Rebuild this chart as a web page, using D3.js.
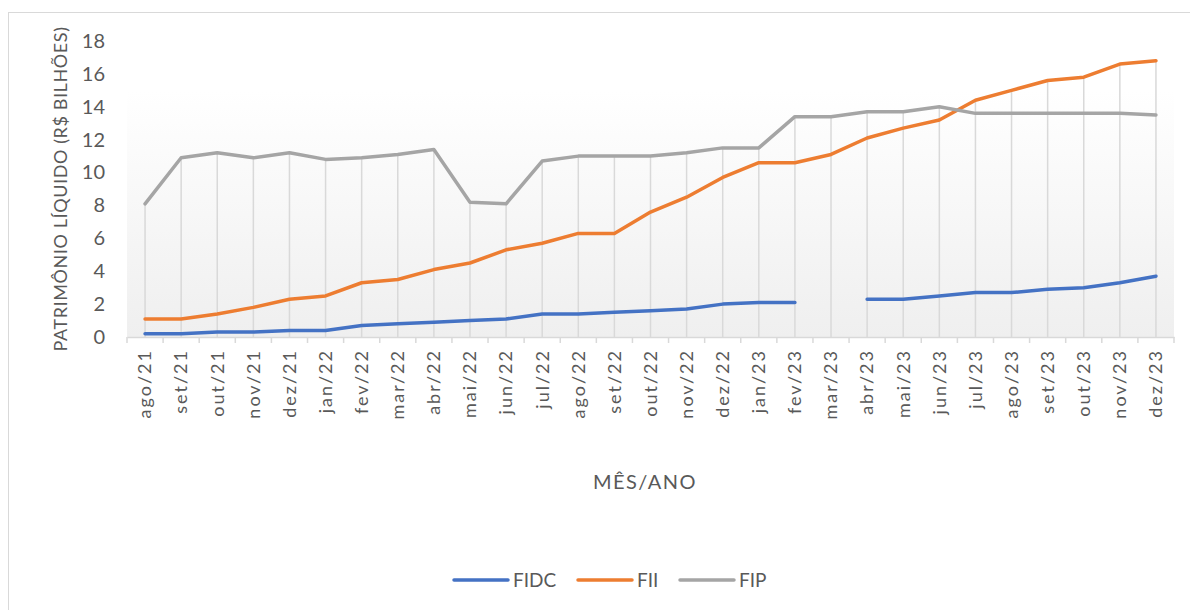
<!DOCTYPE html>
<html>
<head>
<meta charset="utf-8">
<script src="https://cdn.jsdelivr.net/npm/d3@7"></script>
<style>
  body { margin: 0; background: #fff; }
  svg text { font-family: Lato, "Open Sans", sans-serif; fill: #595959; }
</style>
</head>
<body>
<div id="chart"></div>
<script>
const months = ["ago/21","set/21","out/21","nov/21","dez/21","jan/22","fev/22","mar/22","abr/22","mai/22","jun/22","jul/22","ago/22","set/22","out/22","nov/22","dez/22","jan/23","fev/23","mar/23","abr/23","mai/23","jun/23","jul/23","ago/23","set/23","out/23","nov/23","dez/23"]

const fidc = [0.2,0.2,0.3,0.3,0.4,0.4,0.7,0.8,0.9,1.0,1.1,1.4,1.4,1.5,1.6,1.7,2.0,2.1,2.1,null,2.3,2.3,2.5,2.7,2.7,2.9,3.0,3.3,3.7]
const fii = [1.1,1.1,1.4,1.8,2.3,2.5,3.3,3.5,4.1,4.5,5.3,5.7,6.3,6.3,7.6,8.5,9.7,10.6,10.6,11.1,12.1,12.7,13.2,14.4,15.0,15.6,15.8,16.6,16.8]
const fip = [8.1,10.9,11.2,10.9,11.2,10.8,10.9,11.1,11.4,8.2,8.1,10.7,11.0,11.0,11.0,11.2,11.5,11.5,13.4,13.4,13.7,13.7,14.0,13.6,13.6,13.6,13.6,13.6,13.5]
const yTicks = [0,2,4,6,8,10,12,14,16,18]

const series = [
  { name: "FIDC", values: fidc, color: "#4472C4" },
  { name: "FII", values: fii, color: "#ED7D31" },
  { name: "FIP", values: fip, color: "#A5A5A5" },
]

const W = 1190, H = 610
const plot = { left: 127, right: 1174, top: 41, bottom: 337 }

const svg = d3.select("#chart").append("svg")
  .attr("width", W).attr("height", H)

// chart border
svg.append("rect")
  .attr("x", 8.5).attr("y", 12.5)
  .attr("width", W - 8).attr("height", H - 12)
  .attr("fill", "#fff").attr("stroke", "#d9d9d9")

const x = d3.scaleBand().domain(months).range([plot.left, plot.right])
const y = d3.scaleLinear().domain([0, 18]).range([plot.bottom, plot.top])
const cx = (m) => x(m) + x.bandwidth() / 2

// plot background gradient
const grad = svg.append("defs").append("linearGradient")
  .attr("id", "bg").attr("x1", 0).attr("y1", 0).attr("x2", 0).attr("y2", 1)
grad.append("stop").attr("offset", "0%").attr("stop-color", "#ffffff")
grad.append("stop").attr("offset", "100%").attr("stop-color", "#efefef")

svg.append("rect")
  .attr("x", plot.left).attr("y", y(15))
  .attr("width", plot.right - plot.left).attr("height", plot.bottom - y(15))
  .attr("fill", "url(#bg)")

// drop lines from highest value to the axis
svg.append("g")
  .selectAll("line")
  .data(months)
  .join("line")
  .attr("x1", cx).attr("x2", cx)
  .attr("y1", (m, i) => y(d3.max([fidc[i], fii[i], fip[i]])))
  .attr("y2", plot.bottom)
  .attr("stroke", "#d9d9d9").attr("stroke-width", 1.5)

// x axis
const xAxis = svg.append("g")
  .attr("transform", `translate(0,${plot.bottom})`)
  .call(d3.axisBottom(x).tickSize(0).tickPadding(0))
xAxis.select(".domain").attr("stroke", "#d9d9d9").attr("stroke-width", 1.5)
xAxis.selectAll(".tick text")
  .attr("transform", "rotate(-90)")
  .attr("text-anchor", "end")
  .attr("x", -12).attr("y", 0).attr("dy", "0.35em")
  .attr("font-size", 18)
  .style("letter-spacing", "2px")
xAxis.selectAll(".boundary")
  .data(d3.range(months.length + 1))
  .join("line")
  .attr("x1", (i) => plot.left + i * x.bandwidth())
  .attr("x2", (i) => plot.left + i * x.bandwidth())
  .attr("y1", 0).attr("y2", 6)
  .attr("stroke", "#d9d9d9").attr("stroke-width", 1.5)

// y axis labels
const yAxis = svg.append("g")
  .attr("transform", `translate(${plot.left},0)`)
  .call(d3.axisLeft(y).tickValues(yTicks).tickSize(0).tickPadding(22))
yAxis.select(".domain").remove()
yAxis.selectAll(".tick text").attr("font-size", 20)

// lines
const line = d3.line()
  .defined((d) => d.v != null)
  .x((d) => cx(d.m))
  .y((d) => y(d.v))

svg.append("g")
  .selectAll("path")
  .data(series)
  .join("path")
  .attr("d", (s) => line(s.values.map((v, i) => ({ m: months[i], v }))))
  .attr("fill", "none")
  .attr("stroke", (s) => s.color)
  .attr("stroke-width", 3.5)
  .attr("stroke-linecap", "round")
  .attr("stroke-linejoin", "round")

// axis titles
svg.append("text")
  .attr("transform", `translate(67,${(plot.top + plot.bottom) / 2}) rotate(-90)`)
  .attr("text-anchor", "middle")
  .attr("font-size", 18)
  .style("letter-spacing", "0.6px")
  .text("PATRIMÔNIO LÍQUIDO (R$ BILHÕES)")

svg.append("text")
  .attr("x", 645).attr("y", 489)
  .attr("text-anchor", "middle")
  .attr("font-size", 20)
  .style("letter-spacing", "1.5px")
  .text("MÊS/ANO")

// legend
const legendX = [454, 578, 680]
const legend = svg.append("g")
  .selectAll("g")
  .data(series)
  .join("g")
  .attr("transform", (s, i) => `translate(${legendX[i]},580)`)
legend.append("line")
  .attr("x1", 0).attr("x2", 54)
  .attr("stroke", (s) => s.color)
  .attr("stroke-width", 3.5)
  .attr("stroke-linecap", "round")
legend.append("text")
  .attr("x", 59).attr("dy", "0.35em")
  .attr("font-size", 19)
  .text((s) => s.name)
</script>
</body>
</html>
